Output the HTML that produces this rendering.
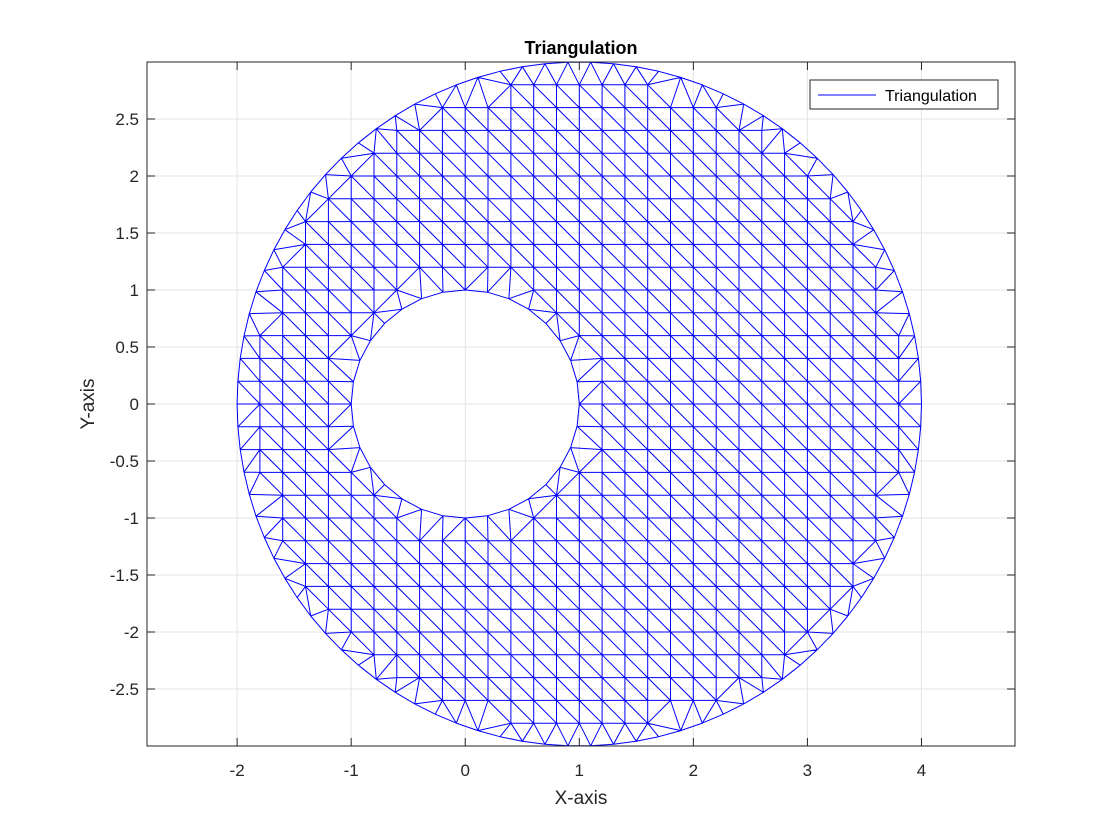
<!DOCTYPE html>
<html><head><meta charset="utf-8"><style>
body{margin:0;background:#fff;}
svg{display:block;font-family:"Liberation Sans",Arial,sans-serif;}
</style></head><body>
<svg id="chart" width="1120" height="840" viewBox="0 0 1120 840"></svg>
<script>
const xTicks=[-2,-1,0,1,2,3,4];
const yTicks=[-2.5,-2,-1.5,-1,-0.5,0,0.5,1,1.5,2,2.5];
const xTickLabels=["-2","-1","0","1","2","3","4"];
const yTickLabels=["-2.5","-2","-1.5","-1","-0.5","0","0.5","1","1.5","2","2.5"];
const outerCircle=[1,0,3];   // cx, cy, r
const innerCircle=[0,0,1];
const boundaryCounts=[94,32]; // outer, inner
const gridSpacing=[0.2];
const xDomain=[-2.79,4.82], yDomain=[-3,3];
const L=147,R=1015,T=62,B=746;
const sx=v=>L+(v-xDomain[0])/(xDomain[1]-xDomain[0])*(R-L);
const sy=v=>B-(v-yDomain[0])/(yDomain[1]-yDomain[0])*(B-T);
const NS="http://www.w3.org/2000/svg";
const svg=document.getElementById('chart');
function el(t,a,p){const e=document.createElementNS(NS,t);for(const k in a)e.setAttribute(k,a[k]);(p||svg).appendChild(e);return e;}
el('rect',{x:L,y:T,width:R-L,height:B-T,fill:'#fff'});
const grid=el('g',{stroke:'#e3e3e3','stroke-width':1});

xTicks.forEach(v=>el('line',{x1:sx(v),x2:sx(v),y1:T,y2:B},grid));
yTicks.forEach(v=>el('line',{x1:L,x2:R,y1:sy(v),y2:sy(v)},grid));
const pts=[];
const [ocx,ocy,oR]=outerCircle,[icx,icy,iR]=innerCircle,h=gridSpacing[0];
for(let i=0;i<boundaryCounts[0];i++){const a=2*Math.PI*i/boundaryCounts[0];pts.push([ocx+oR*Math.cos(a),ocy+oR*Math.sin(a)]);}
for(let i=0;i<boundaryCounts[1];i++){const a=2*Math.PI*i/boundaryCounts[1];pts.push([icx+iR*Math.cos(a),icy+iR*Math.sin(a)]);}
for(let i=Math.round((ocx-oR)/h);i<=Math.round((ocx+oR)/h);i++)for(let j=Math.round(-oR/h);j<=Math.round(oR/h);j++){
  const x=i*h,y=j*h;const d1=Math.hypot(x-ocx,y-ocy),d2=Math.hypot(x-icx,y-icy);
  if(d1<oR-0.1&&d2>iR+0.1)pts.push([x,y]);}
const P=pts.map(p=>[p[0]+0.002*p[1]+1e-7*p[0]*p[0],p[1]]);
const n=P.length;P.push([-100,-100],[100,-100],[0,100]);
let tris=[[n,n+1,n+2]];
function cc(t){const[a,b,c]=t.map(i=>P[i]);const d=2*(a[0]*(b[1]-c[1])+b[0]*(c[1]-a[1])+c[0]*(a[1]-b[1]));
 const A=a[0]*a[0]+a[1]*a[1],Bq=b[0]*b[0]+b[1]*b[1],C=c[0]*c[0]+c[1]*c[1];
 const ux=(A*(b[1]-c[1])+Bq*(c[1]-a[1])+C*(a[1]-b[1]))/d,uy=(A*(c[0]-b[0])+Bq*(a[0]-c[0])+C*(b[0]-a[0]))/d;
 return [ux,uy,(a[0]-ux)**2+(a[1]-uy)**2];}
tris=tris.map(t=>({t,c:cc(t)}));
for(let i=0;i<n;i++){const p=P[i];const bad=[],keep=[];
 for(const tr of tris){((p[0]-tr.c[0])**2+(p[1]-tr.c[1])**2<tr.c[2])?bad.push(tr):keep.push(tr);}
 const em=new Map();
 for(const tr of bad){const t=tr.t;for(const[e1,e2]of[[t[0],t[1]],[t[1],t[2]],[t[2],t[0]]]){const k=e1<e2?e1+','+e2:e2+','+e1;em.has(k)?em.set(k,null):em.set(k,[e1,e2]);}}
 for(const e of em.values())if(e){const t=[e[0],e[1],i];keep.push({t,c:cc(t)});}
 tris=keep;}
const edges=new Set();let d='';
for(const tr of tris){const t=tr.t;if(t.some(i=>i>=n))continue;
 const cx=(pts[t[0]][0]+pts[t[1]][0]+pts[t[2]][0])/3,cy=(pts[t[0]][1]+pts[t[1]][1]+pts[t[2]][1])/3;
 if(Math.hypot(cx-ocx,cy-ocy)>oR||Math.hypot(cx-icx,cy-icy)<iR)continue;
 for(const[a,b]of[[t[0],t[1]],[t[1],t[2]],[t[2],t[0]]]){const k=a<b?a+','+b:b+','+a;if(edges.has(k))continue;edges.add(k);
  d+=`M${sx(pts[a][0]).toFixed(1)} ${sy(pts[a][1]).toFixed(1)}L${sx(pts[b][0]).toFixed(1)} ${sy(pts[b][1]).toFixed(1)}`;}}
const mesh=el('path',{d,stroke:'#0000ff','stroke-width':1,fill:'none'});

const box=el('rect',{x:L,y:T,width:R-L,height:B-T,fill:'none',stroke:'#262626','stroke-width':1});

xTicks.forEach((v,i)=>{el('line',{x1:sx(v),x2:sx(v),y1:B,y2:B-8,stroke:'#262626'});el('line',{x1:sx(v),x2:sx(v),y1:T,y2:T+8,stroke:'#262626'});
 const t=el('text',{x:sx(v),y:B+30,'text-anchor':'middle','font-size':17,fill:'#262626'});t.textContent=xTickLabels[i];
 });
yTicks.forEach((v,i)=>{el('line',{x1:L,x2:L+8,y1:sy(v),y2:sy(v),stroke:'#262626'});el('line',{x1:R,x2:R-8,y1:sy(v),y2:sy(v),stroke:'#262626'});
 const t=el('text',{x:L-8,y:sy(v)+6,'text-anchor':'end','font-size':17,fill:'#262626'});t.textContent=yTickLabels[i];
 });
let t=el('text',{x:581,y:54,'text-anchor':'middle','font-size':18,'font-weight':'bold',fill:'#000'});t.textContent='Triangulation';

t=el('text',{x:581,y:804,'text-anchor':'middle','font-size':19,fill:'#262626'});t.textContent='X-axis';

t=el('text',{x:0,y:0,'text-anchor':'middle','font-size':19,fill:'#262626',transform:'translate(94 404) rotate(-90)'});t.textContent='Y-axis';

const lg=el('g',{});
el('rect',{x:810,y:80,width:188,height:29,fill:'#fff',stroke:'#262626'},lg);
el('line',{x1:818,x2:876,y1:95,y2:95,stroke:'#0000ff'},lg);
t=el('text',{x:885,y:101,'font-size':16,fill:'#000'},lg);t.textContent='Triangulation';

</script>
</body></html>
